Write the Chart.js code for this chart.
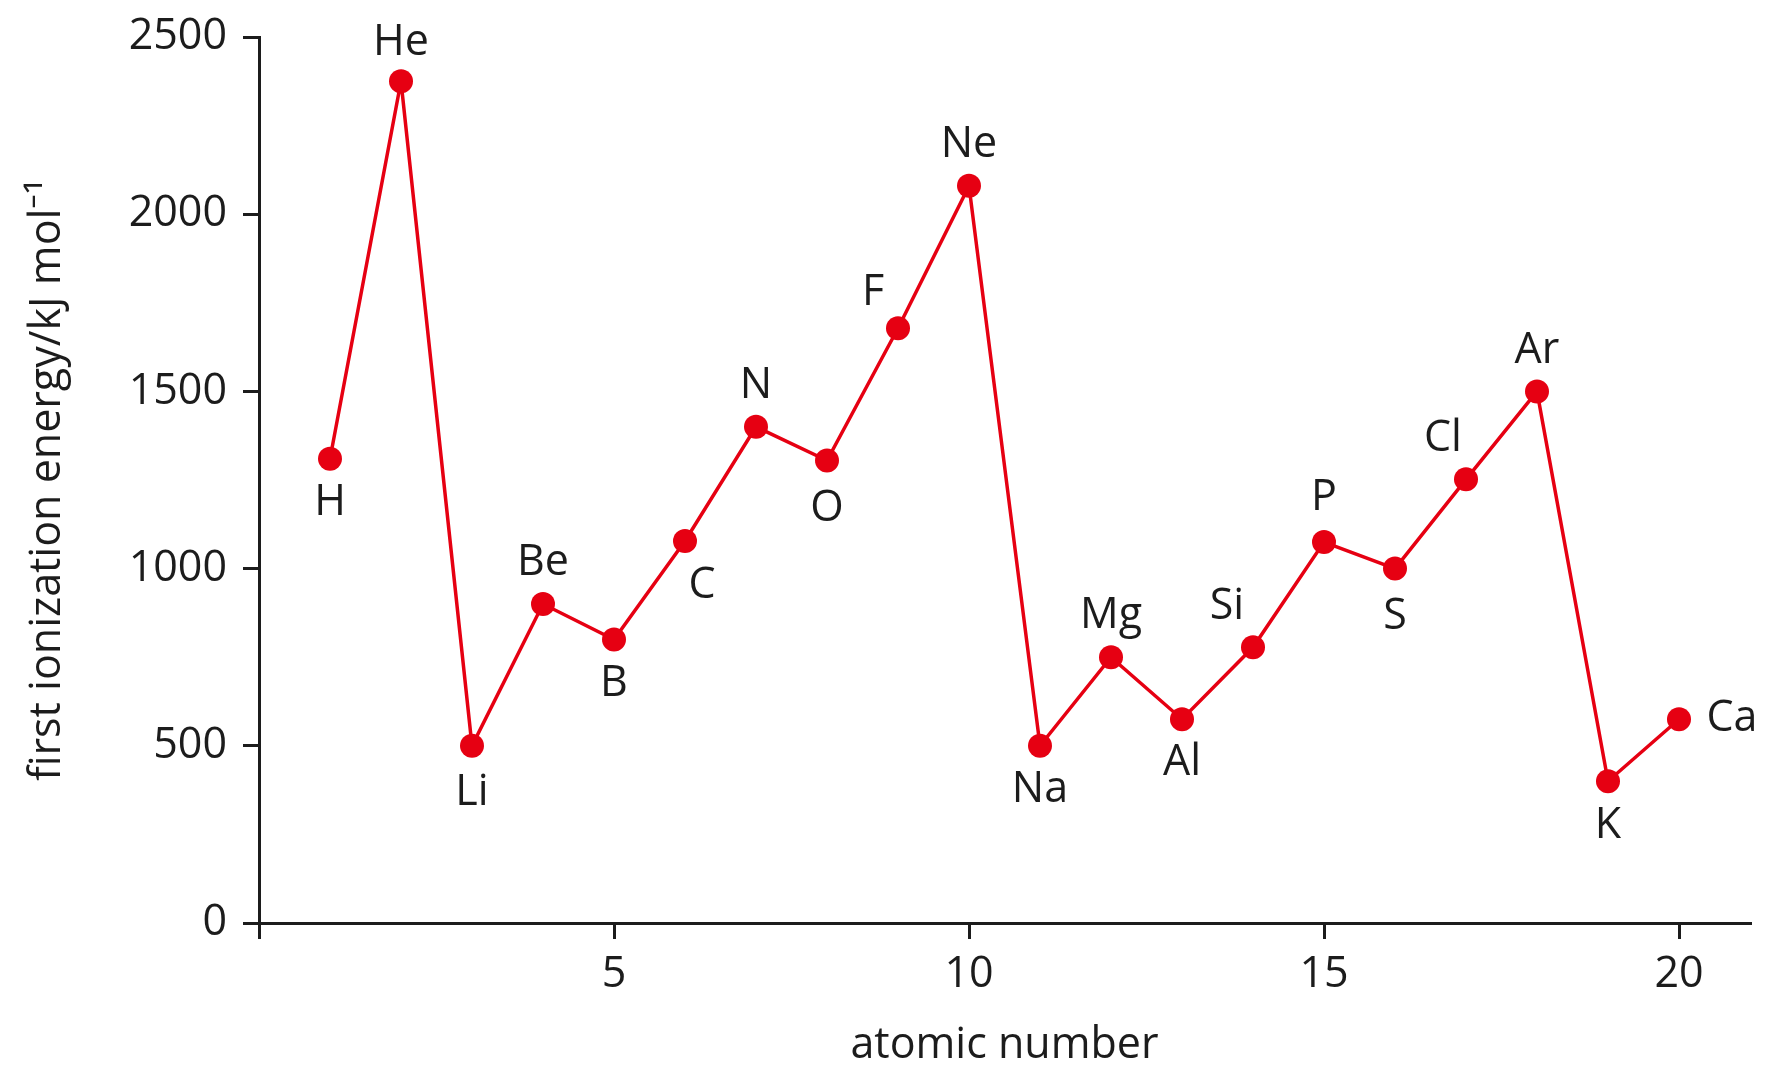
<!DOCTYPE html>
<html lang="en">
<head>
    <meta charset="UTF-8">
    <title>First ionization energy</title>
    <style>
        html, body { margin: 0; padding: 0; background: #fff; }
        .chart-container { width: 1782px; height: 1088px; }
    </style>
    <script src="https://cdn.jsdelivr.net/npm/chart.js"></script>
</head>
<body>
    <div class="chart-container">
        <canvas id="ieChart"></canvas>
    </div>

    <script>
        const atomicNumbers = [1, 2, 3, 4, 5, 6, 7, 8, 9, 10, 11, 12, 13, 14, 15, 16, 17, 18, 19, 20];
        const symbols = ["H", "He", "Li", "Be", "B", "C", "N", "O", "F", "Ne",
                         "Na", "Mg", "Al", "Si", "P", "S", "Cl", "Ar", "K", "Ca"];
        const energies = [1310, 2375, 500, 900, 800, 1078, 1400, 1305, 1678, 2080,
                          500, 750, 575, 778, 1075, 1000, 1252, 1500, 400, 575];
        const yTicks = [0, 500, 1000, 1500, 2000, 2500];
        const xTicks = [0, 5, 10, 15, 20];

        const RED = '#e60012';
        const INK = '#1c1c1c';
        const FONT = "'Open Sans', 'Noto Sans', sans-serif";

        // where each element label sits relative to its point (px)
        const labelOffsets = {
            H: [0, 44], He: [0, -39], Li: [0, 47], Be: [0, -41], B: [0, 44],
            C: [17, 45], N: [0, -41], O: [0, 48], F: [-25, -36], Ne: [0, -41],
            Na: [0, 44], Mg: [0, -41], Al: [0, 44], Si: [-26, -41], P: [0, -44],
            S: [0, 48], Cl: [-23, -41], Ar: [0, -41], K: [0, 45], Ca: [53, 0]
        };

        const pointLabels = {
            id: 'pointLabels',
            afterDatasetsDraw(chart) {
                const ctx = chart.ctx;
                const meta = chart.getDatasetMeta(0);
                ctx.save();
                ctx.font = `43px ${FONT}`;
                ctx.fillStyle = INK;
                ctx.textAlign = 'center';
                ctx.textBaseline = 'middle';
                meta.data.forEach((pt, i) => {
                    const s = symbols[i];
                    const off = labelOffsets[s] || [0, 0];
                    ctx.fillText(s, pt.x + off[0], pt.y + off[1]);
                });
                ctx.restore();
            }
        };

        const ctx = document.getElementById('ieChart').getContext('2d');
        new Chart(ctx, {
            type: 'line',
            data: {
                datasets: [{
                    data: atomicNumbers.map((z, i) => ({ x: z, y: energies[i] })),
                    borderColor: RED,
                    backgroundColor: RED,
                    borderWidth: 3.5,
                    pointRadius: 12,
                    pointHoverRadius: 12,
                    pointBorderWidth: 0,
                    tension: 0
                }]
            },
            options: {
                responsive: true,
                maintainAspectRatio: false,
                animation: false,
                layout: { padding: { top: 37, right: 32, bottom: 0, left: 0 } },
                plugins: {
                    legend: { display: false },
                    tooltip: { enabled: false }
                },
                scales: {
                    x: {
                        type: 'linear',
                        min: 0,
                        max: 21,
                        border: { color: INK, width: 3 },
                        grid: { drawOnChartArea: false, drawTicks: true, tickLength: 16, color: INK, lineWidth: 3 },
                        afterBuildTicks: s => { s.ticks = xTicks.map(v => ({ value: v })); },
                        afterFit: s => { s.height = 165; s.paddingLeft = 0; s.paddingRight = 0; },
                        ticks: {
                            color: INK,
                            padding: 10,
                            font: { family: FONT, size: 43 },
                            callback: v => v === 0 ? '' : String(v)
                        },
                        title: {
                            display: true,
                            text: 'atomic number',
                            color: INK,
                            font: { family: FONT, size: 43 },
                            padding: { top: 0, bottom: 16 }
                        }
                    },
                    y: {
                        min: 0,
                        max: 2500,
                        border: { color: INK, width: 3 },
                        grid: { drawOnChartArea: false, drawTicks: true, tickLength: 16, color: INK, lineWidth: 3 },
                        afterBuildTicks: s => { s.ticks = yTicks.map(v => ({ value: v })); },
                        afterFit: s => { s.width = 259; s.paddingTop = 0; s.paddingBottom = 0; },
                        ticks: {
                            color: INK,
                            padding: 16,
                            font: { family: FONT, size: 43 },
                            callback: v => String(v)
                        },
                        title: {
                            display: true,
                            text: 'first ionization energy/kJ mol\u207B\u00B9',
                            color: INK,
                            font: { family: FONT, size: 43 },
                            padding: { top: 22, bottom: 0 }
                        }
                    }
                }
            },
            plugins: [pointLabels]
        });
    </script>
</body>
</html>
